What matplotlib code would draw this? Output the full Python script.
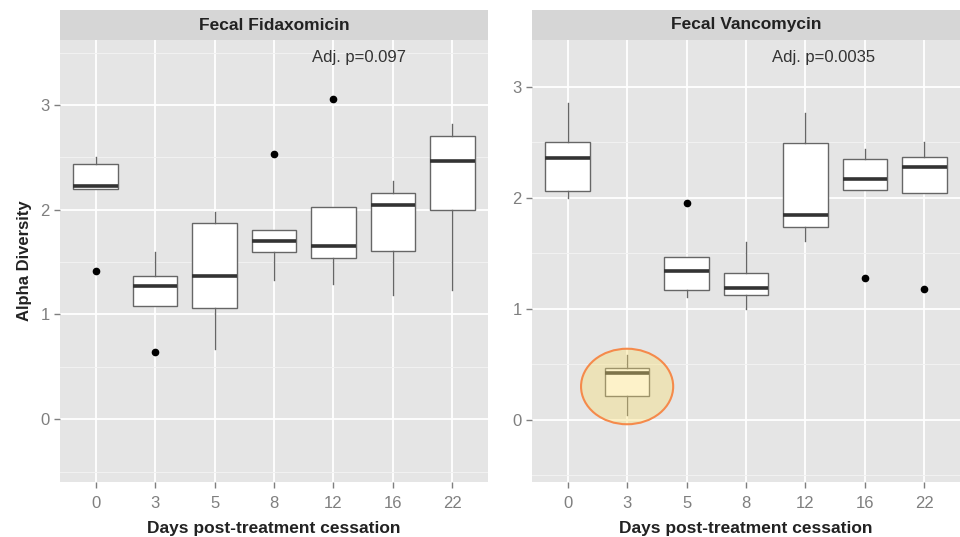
import matplotlib.pyplot as plt
from matplotlib.patches import Ellipse
from matplotlib.ticker import MultipleLocator

plt.rcParams['font.family'] = ['Liberation Sans', 'DejaVu Sans']

days = ["0", "3", "5", "8", "12", "16", "22"]

# Fecal Fidaxomicin
fida_med = [2.23, 1.27, 1.37, 1.70, 1.65, 2.04, 2.46]
fida_q1 = [2.20, 1.08, 1.06, 1.60, 1.54, 1.61, 2.00]
fida_q3 = [2.44, 1.37, 1.87, 1.81, 2.03, 2.16, 2.70]
fida_lo = [2.20, 1.08, 0.67, 1.33, 1.29, 1.19, 1.23]
fida_hi = [2.50, 1.60, 1.98, 1.81, 2.03, 2.27, 2.82]
fida_out = [[1.41], [0.64], [], [2.53], [3.06], [], []]

# Fecal Vancomycin
vanc_med = [2.36, 0.42, 1.34, 1.19, 1.84, 2.17, 2.28]
vanc_q1 = [2.06, 0.21, 1.17, 1.12, 1.74, 2.07, 2.04]
vanc_q3 = [2.50, 0.47, 1.47, 1.32, 2.49, 2.35, 2.37]
vanc_lo = [2.00, 0.04, 1.11, 1.00, 1.61, 2.07, 2.04]
vanc_hi = [2.85, 0.58, 1.47, 1.60, 2.76, 2.44, 2.50]
vanc_out = [[], [], [1.95], [], [], [1.28], [1.18]]

titles = ["Fecal Fidaxomicin", "Fecal Vancomycin"]
pvals = ["Adj. p=0.097", "Adj. p=0.0035"]


def make_stats(med, q1, q3, lo, hi, out):
    stats = []
    for i in range(len(med)):
        stats.append(dict(med=med[i], q1=q1[i], q3=q3[i],
                          whislo=lo[i], whishi=hi[i], fliers=out[i]))
    return stats


panels = [make_stats(fida_med, fida_q1, fida_q3, fida_lo, fida_hi, fida_out),
          make_stats(vanc_med, vanc_q1, vanc_q3, vanc_lo, vanc_hi, vanc_out)]

fig = plt.figure(figsize=(9.6, 5.37), dpi=100)
lefts = [60/960, 532/960]
ylims = [(-0.60, 3.62), (-0.56, 3.42)]
ptext = [(4.43, 3.45), (4.31, 3.26)]

for k in range(2):
    ax = fig.add_axes([lefts[k], 55/537, 428/960, 442/537])
    ax.set_facecolor("#E5E5E5")
    ax.bxp(panels[k], positions=range(7), widths=0.75, patch_artist=True,
           showcaps=False,
           boxprops=dict(facecolor="white", edgecolor="#666666", linewidth=1.0),
           medianprops=dict(color="#333333", linewidth=2.6),
           whiskerprops=dict(color="#666666", linewidth=1.0),
           flierprops=dict(marker="o", markerfacecolor="black", markeredgecolor="black",
                           markersize=4.5))
    ax.set_xlim(-0.6, 6.6)
    ax.set_ylim(*ylims[k])
    ax.set_yticks([0, 1, 2, 3])
    ax.yaxis.set_minor_locator(MultipleLocator(0.5))
    ax.set_xticks(range(7))
    ax.set_xticklabels(days)
    ax.grid(True, which="major", color="white", linewidth=1.3)
    ax.grid(True, which="minor", axis="y", color="#F2F2F2", linewidth=0.7)
    ax.set_axisbelow(True)
    for s in ax.spines.values():
        s.set_visible(False)
    ax.tick_params(which="major", colors="#7F7F7F", labelcolor="#7F7F7F",
                   labelsize=12, length=4, width=1)
    ax.tick_params(axis="x", pad=6)
    ax.tick_params(which="minor", length=0)
    ax.set_xlabel("Days post-treatment cessation", fontsize=12.5,
                  fontweight="bold", color="#222222", labelpad=7.5)
    ax.text(ptext[k][0], ptext[k][1], pvals[k], fontsize=12, color="#333333",
            ha="center", va="center")

    # strip on top
    sax = fig.add_axes([lefts[k], 497/537, 428/960, 30/537])
    sax.set_facecolor("#D6D6D6")
    sax.set_xticks([])
    sax.set_yticks([])
    for s in sax.spines.values():
        s.set_visible(False)
    sax.text(0.5, 0.5, titles[k], transform=sax.transAxes, ha="center",
             va="center", fontsize=12.5, fontweight="bold", color="#222222")

    if k == 0:
        ax.set_ylabel("Alpha Diversity", fontsize=12, fontweight="bold",
                      color="#222222", labelpad=6)
    else:
        # highlighted day-3 box
        ax.add_patch(Ellipse((1, 0.30), 1.55, 0.68, facecolor="#FADF71",
                             alpha=0.38, edgecolor="none", zorder=5))
        ax.add_patch(Ellipse((1, 0.30), 1.55, 0.68, facecolor="none",
                             edgecolor="#F58A4B", linewidth=1.5, zorder=6))

plt.savefig("out.png", dpi=100)
plt.close()
